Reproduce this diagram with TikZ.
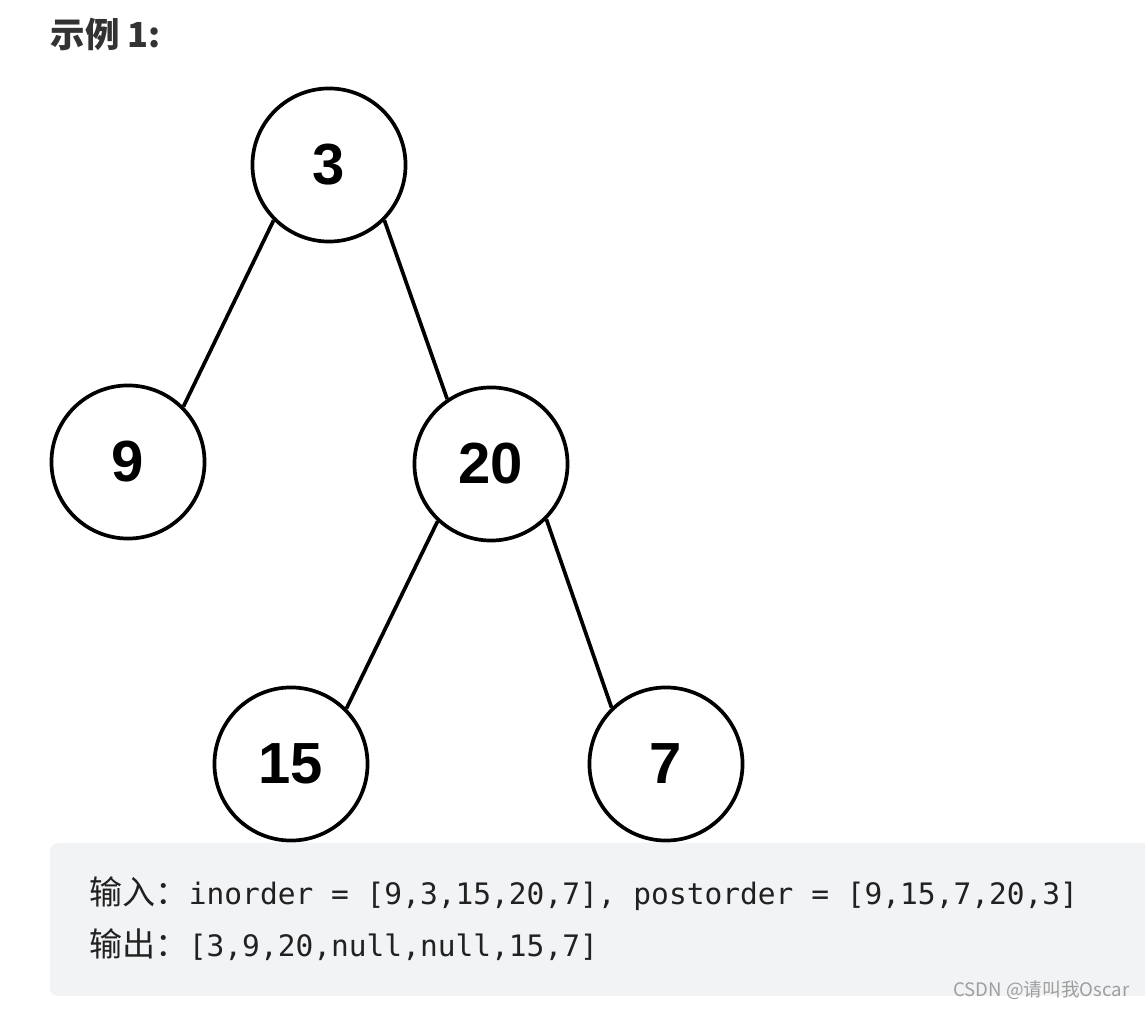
\documentclass[tikz,border=0pt]{standalone}
\usepackage{fontspec}
\setmainfont{Liberation Sans}
\setmonofont{DejaVu Sans Mono}
\newfontfamily\cjk{Noto Sans CJK SC}

\definecolor{cajagris}{HTML}{F2F3F5}
\definecolor{textogris}{HTML}{333333}
\definecolor{marcagris}{HTML}{9E9E9E}

\begin{document}
\begin{tikzpicture}[x=0.01cm,y=-0.01cm,
	nodo/.style={circle,draw,line width=1.05pt,minimum size=1.53cm,inner sep=0pt,
		font=\bfseries\fontsize{16.5}{18}\selectfont},
	arista/.style={line width=1.05pt},
	texto/.style={inner sep=0pt}]
		%Marco
		\useasboundingbox (0,0) rectangle (1145,1010);
		
		%Titulo
		\node[texto,anchor=west,text=textogris,font=\cjk\bfseries\fontsize{9.8}{11}\selectfont] (titulo) at (50,34) {示例 1:};
		
		%Nodos del arbol
		\node[nodo] (n3) at (329,165) {3};
		\node[nodo] (n9) at (128,462) {9};
		\node[nodo] (n20) at (491,464) {20};
		\node[nodo] (n15) at (291,764) {15};
		\node[nodo] (n7) at (666,764) {7};
		
		%Aristas
		\draw[arista] (n3.225) -- (n9.45);
		\draw[arista] (n3.-45) -- (n20.124);
		\draw[arista] (n20.227) -- (n15.45);
		\draw[arista] (n20.-45) -- (n7.134);
		
		%Caja del ejemplo
		\fill[cajagris,rounded corners=0.8mm] (50,843) rectangle (1165,996);
		\node[texto,anchor=base west,text=black!87,font=\cjk\fontsize{9.4}{11}\selectfont] (entrada) at (89,905)
			{输入：{\ttfamily\fontsize{8.4}{10}\selectfont inorder = [9,3,15,20,7], postorder = [9,15,7,20,3]}};
		\node[texto,anchor=base west,text=black!87,font=\cjk\fontsize{9.4}{11}\selectfont] (salida) at (89,957)
			{输出：{\ttfamily\fontsize{8.4}{10}\selectfont [3,9,20,null,null,15,7]}};
		
		%Marca de agua
		\node[texto,anchor=base east,text=marcagris,font=\cjk\fontsize{5.3}{6}\selectfont] (marca) at (1130,997) {CSDN @请叫我Oscar};
	
	\end{tikzpicture}
\end{document}
